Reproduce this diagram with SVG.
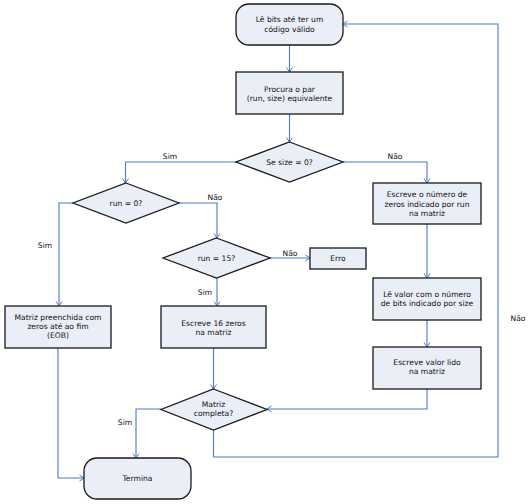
<svg xmlns="http://www.w3.org/2000/svg" width="531" height="504" viewBox="0 0 531 504">
<style>
.n{fill:#E9EEF7;stroke:#1a1a1a;stroke-width:1.3}
.c{fill:none;stroke:#4A7BC4;stroke-width:1.1}
text{font-family:"DejaVu Sans",Verdana,sans-serif;font-size:7.6px;fill:#111;text-anchor:middle}
.l{text-anchor:start}
</style>
<defs>
<marker id="a" markerWidth="8" markerHeight="8" refX="6" refY="4" orient="auto" markerUnits="userSpaceOnUse">
<path d="M1.5,1 L6,4 L1.5,7" fill="none" stroke="#4A7BC4" stroke-width="1"/>
</marker>
</defs>
<rect width="531" height="504" fill="#fff"/>
<g id="connectors">
<path class="c" d="M289.5,45 V72" marker-end="url(#a)"/>
<path class="c" d="M289.5,114 V142" marker-end="url(#a)"/>
<path class="c" d="M236,162 H125.5 V183" marker-end="url(#a)"/>
<path class="c" d="M343,162 H427 V183" marker-end="url(#a)"/>
<path class="c" d="M179,203 H217 V238" marker-end="url(#a)"/>
<path class="c" d="M73,203 H59 V306" marker-end="url(#a)"/>
<path class="c" d="M270,258 H310" marker-end="url(#a)"/>
<path class="c" d="M217,278 V306" marker-end="url(#a)"/>
<path class="c" d="M427,224 V278" marker-end="url(#a)"/>
<path class="c" d="M427,320 V347" marker-end="url(#a)"/>
<path class="c" d="M427,389 V409 H267" marker-end="url(#a)"/>
<path class="c" d="M213.5,348 V389" marker-end="url(#a)"/>
<path class="c" d="M161,409 H136 V458" marker-end="url(#a)"/>
<path class="c" d="M58,348 V478 H84" marker-end="url(#a)"/>
<path class="c" d="M213.5,430 V457 H498 V24 H343" marker-end="url(#a)"/>
<text x="170" y="159">Sim</text>
<text x="395" y="159">Não</text>
<text x="215" y="200">Não</text>
<text x="45" y="248">Sim</text>
<text x="290" y="256">Não</text>
<text x="205" y="295">Sim</text>
<text x="125" y="425">Sim</text>
<text x="518" y="321">Não</text>
</g>
<g id="start">
<rect class="n" x="236" y="4" width="107" height="41" rx="13"/>
<text x="289.5" y="22">Lê bits até ter um</text>
<text x="289.5" y="32">código válido</text>
</g>
<g id="procura">
<rect class="n" x="236" y="72" width="107" height="42"/>
<text x="289.5" y="91.5">Procura o par</text>
<text x="289.5" y="101">(run, size) equivalente</text>
</g>
<g id="size0">
<polygon class="n" points="289.5,142 343,162 289.5,182 236,162"/>
<text x="289.5" y="165">Se size = 0?</text>
</g>
<g id="run0">
<polygon class="n" points="126,183 179,203 126,223 73,203"/>
<text x="126" y="206">run = 0?</text>
</g>
<g id="run15">
<polygon class="n" points="216.5,238 270,258 216.5,278 163,258"/>
<text x="216.5" y="261">run = 15?</text>
</g>
<g id="erro">
<rect class="n" x="310" y="248" width="56" height="21"/>
<text x="338" y="261">Erro</text>
</g>
<g id="escreveZeros">
<rect class="n" x="373" y="183" width="108" height="41"/>
<text x="427" y="197">Escreve o número de</text>
<text x="427" y="206.5">zeros indicado por run</text>
<text x="427" y="216">na matriz</text>
</g>
<g id="leValor">
<rect class="n" x="373" y="278" width="108" height="42"/>
<text x="427" y="297">Lê valor com o número</text>
<text x="427" y="306">de bits indicado por size</text>
</g>
<g id="escreveValor">
<rect class="n" x="373" y="347" width="108" height="42"/>
<text x="427" y="365">Escreve valor lido</text>
<text x="427" y="374">na matriz</text>
</g>
<g id="eob">
<rect class="n" x="5" y="306" width="106" height="42"/>
<text x="58" y="320">Matriz preenchida com</text>
<text x="58" y="329">zeros até ao fim</text>
<text x="58" y="337.5">(EOB)</text>
</g>
<g id="zeros16">
<rect class="n" x="161" y="306" width="105" height="42"/>
<text x="213.5" y="326">Escreve 16 zeros</text>
<text x="213.5" y="335">na matriz</text>
</g>
<g id="completa">
<polygon class="n" points="213.5,389 267,409.5 213.5,430 161,409.5"/>
<text x="213.5" y="407">Matriz</text>
<text x="213.5" y="416">completa?</text>
</g>
<g id="termina">
<rect class="n" x="84" y="458" width="107" height="41" rx="13"/>
<text x="137.5" y="481">Termina</text>
</g>
</svg>
